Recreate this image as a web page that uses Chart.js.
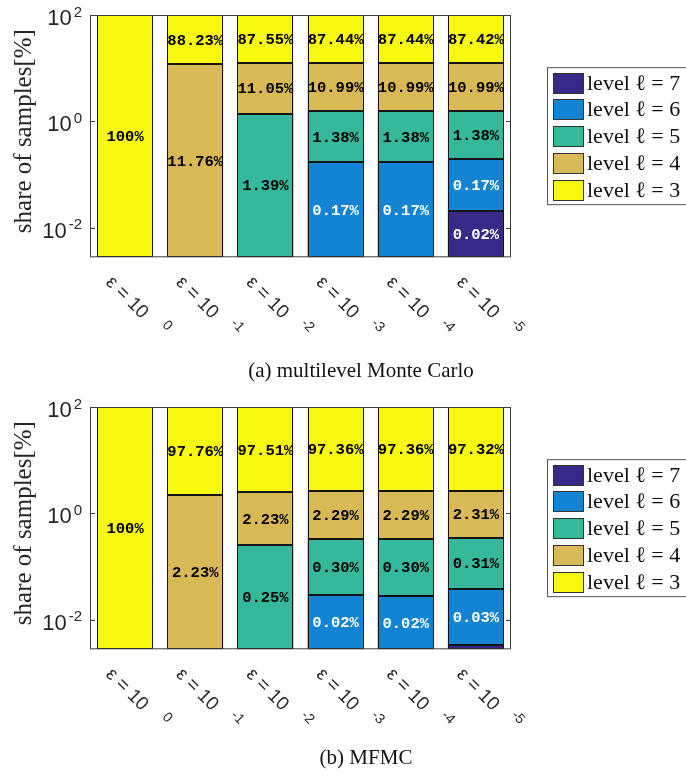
<!DOCTYPE html>
<html>
<head>
<meta charset="utf-8">
<script src="https://cdn.jsdelivr.net/npm/chart.js@4/dist/chart.umd.min.js"></script>
<style>
  body { margin: 0; background: #fff; width: 686px; height: 776px; overflow: hidden; position: relative; }
  .panel { position: absolute; left: 0; width: 686px; height: 392px; }
</style>
</head>
<body>
<div class="panel" style="top:0"><canvas id="mlmcChart" width="686" height="392"></canvas></div>
<div class="panel" style="top:392px"><canvas id="mfmcChart" width="686" height="392"></canvas></div>
<script>
// tolerance exponents on the x axis: eps = 10^k
const epsExponents = ["0", "-1", "-2", "-3", "-4", "-5"];
// stack order: bottom (level 7) first
const levelNames = ["level \u2113 = 7", "level \u2113 = 6", "level \u2113 = 5", "level \u2113 = 4", "level \u2113 = 3"];
const levelColors = ["#352a87", "#1384d4", "#36b89d", "#d8b955", "#f7f70f"];
const labelColors = ["#ffffff", "#ffffff", "#000000", "#000000", "#000000"];
const yTicks = [100, 1, 0.01];
const yMin = 0.00278;
const yMax = 100;

// share of samples per level [%], multilevel Monte Carlo
const mlmcLevel7 = [null, null, null, null, null, 0.021];
const mlmcLevel6 = [null, null, null, 0.17, 0.17, 0.172];
const mlmcLevel5 = [null, null, 1.39, 1.38, 1.38, 1.38];
const mlmcLevel4 = [null, 11.76, 11.05, 10.99, 10.99, 10.99];
const mlmcLevel3 = [100, 88.23, 87.55, 87.44, 87.44, 87.42];

// share of samples per level [%], MFMC
const mfmcLevel7 = [null, null, null, null, null, 0.0034];
const mfmcLevel6 = [null, null, null, 0.029, 0.028, 0.034];
const mfmcLevel5 = [null, null, 0.25, 0.30, 0.30, 0.31];
const mfmcLevel4 = [null, 2.23, 2.23, 2.29, 2.29, 2.31];
const mfmcLevel3 = [100, 97.76, 97.51, 97.36, 97.36, 97.32];

function shareLabel(v) {
    if (v === 100) return "100%";
    let t = Math.floor(v * 100 + 1e-6) / 100;
    return t > 0 ? t.toFixed(2) + "%" : "";
}

let overlay = {
    id: "overlay",
    afterDatasetsDraw(chart) {
        let ctx = chart.ctx;
        let area = chart.chartArea;
        let xs = chart.scales.x, ys = chart.scales.y;
        ctx.save();

        // crisp black outlines of the bar segments
        ctx.strokeStyle = "#141414";
        ctx.lineWidth = 1;
        chart.data.datasets.forEach(function (ds, di) {
            chart.getDatasetMeta(di).data.forEach(function (bar, i) {
                if (ds.data[i] == null) return;
                let l = Math.round(bar.x - bar.width / 2) + 0.5;
                let r = Math.round(bar.x + bar.width / 2) - 0.5;
                let t = Math.max(Math.round(bar.y), Math.round(area.top)) + 0.5;
                let b = Math.round(bar.base) - 0.5;
                ctx.strokeRect(l, t, r - l, b - t);
            });
        });

        // percentages inside the bars
        ctx.font = "bold 15.5px 'Liberation Mono', 'Courier New', monospace";
        ctx.textAlign = "center";
        ctx.textBaseline = "middle";
        chart.data.datasets.forEach(function (ds, di) {
            chart.getDatasetMeta(di).data.forEach(function (bar, i) {
                let v = ds.data[i];
                if (v == null) return;
                let txt = shareLabel(v);
                if (!txt) return;
                ctx.fillStyle = labelColors[di];
                ctx.fillText(txt, bar.x, (bar.y + bar.base) / 2 + 1);
            });
        });

        // axes box with inward ticks
        ctx.strokeStyle = "#3c3c3c";
        ctx.lineWidth = 1;
        ctx.strokeRect(area.left + 0.5, area.top + 0.5, area.width - 1, area.bottom - area.top - 1);
        ctx.beginPath();
        yTicks.forEach(function (t) {
            let py = Math.round(ys.getPixelForValue(t)) + 0.5;
            ctx.moveTo(area.left, py); ctx.lineTo(area.left + 5, py);
            ctx.moveTo(area.right, py); ctx.lineTo(area.right - 5, py);
        });
        ctx.stroke();

        // y tick labels 10^k
        ctx.fillStyle = "#262626";
        ctx.textBaseline = "alphabetic";
        ctx.textAlign = "right";
        yTicks.forEach(function (t) {
            let py = ys.getPixelForValue(t);
            let ex = String(Math.round(Math.log10(t)));
            ctx.font = "15px 'Liberation Sans', Arial, sans-serif";
            let ew = ctx.measureText(ex).width;
            ctx.fillText(ex, area.left - 8, py + 1.5);
            ctx.font = "22px 'Liberation Sans', Arial, sans-serif";
            ctx.fillText("10", area.left - 10 - ew, py + 10);
        });

        // rotated x tick labels
        epsExponents.forEach(function (e, i) {
            let px = xs.getPixelForValue(i);
            ctx.save();
            ctx.translate(px - 20, area.bottom + 26);
            ctx.rotate(Math.PI / 4);
            ctx.textAlign = "left";
            ctx.textBaseline = "alphabetic";
            ctx.font = "19px 'Liberation Sans', Arial, sans-serif";
            ctx.fillText("\u03b5 = 10", 0, 0);
            ctx.textAlign = "center";
            ctx.textBaseline = "middle";
            ctx.font = "14px 'Liberation Sans', Arial, sans-serif";
            ctx.fillText(e, 74, -14);
            ctx.restore();
        });

        // y axis title
        ctx.save();
        ctx.translate(31, (area.top + area.bottom) / 2 - 5);
        ctx.rotate(-Math.PI / 2);
        ctx.textAlign = "center";
        ctx.textBaseline = "alphabetic";
        ctx.fillStyle = "#262626";
        ctx.font = "25px 'Liberation Serif', 'Times New Roman', serif";
        ctx.fillText("share of samples[%]", 0, 0);
        ctx.restore();

        // legend box
        let lx = area.right + 36;
        let ly = (area.top + area.bottom) / 2 - 69;
        ctx.fillStyle = "#fff";
        ctx.fillRect(lx, ly, 170, 138);
        ctx.strokeStyle = "#555";
        ctx.strokeRect(lx + 0.5, ly + 0.5, 170, 137);
        ctx.font = "22px 'Liberation Serif', 'Times New Roman', serif";
        ctx.textAlign = "left";
        ctx.textBaseline = "middle";
        chart.data.datasets.forEach(function (ds, k) {
            let ry = Math.round(ly + 5.6 + k * 26.7);
            ctx.fillStyle = ds.backgroundColor;
            ctx.fillRect(lx + 6.5, ry + 0.5, 30, 20);
            ctx.strokeStyle = "#333";
            ctx.strokeRect(lx + 6.5, ry + 0.5, 30, 20);
            ctx.fillStyle = "#111";
            ctx.fillText(ds.label, lx + 40, ry + 11);
        });

        // caption
        let cap = chart.options.plugins.overlay;
        ctx.fillStyle = "#111";
        ctx.textAlign = "center";
        ctx.textBaseline = "alphabetic";
        ctx.font = "21px 'Liberation Serif', 'Times New Roman', serif";
        ctx.fillText(cap.caption, cap.captionX, cap.captionY);

        ctx.restore();
    }
};

function makeChart(canvasId, series, caption, captionX, captionY) {
    let ctx = document.getElementById(canvasId).getContext("2d");
    return new Chart(ctx, {
        type: "bar",
        data: {
            labels: epsExponents.map(function (e) { return "\u03b5 = 10^" + e; }),
            datasets: series.map(function (values, k) {
                return {
                    label: levelNames[k],
                    data: values,
                    backgroundColor: levelColors[k],
                    borderWidth: 0,
                    barPercentage: 0.8,
                    categoryPercentage: 1
                };
            })
        },
        options: {
            responsive: false,
            animation: false,
            layout: { padding: { left: 90, right: 175, top: 15, bottom: 134.7 } },
            plugins: {
                legend: { display: false },
                tooltip: { enabled: false },
                overlay: { caption: caption, captionX: captionX, captionY: captionY }
            },
            scales: {
                x: {
                    stacked: true,
                    grid: { display: false, drawTicks: false },
                    border: { display: false },
                    ticks: { display: false }
                },
                y: {
                    type: "logarithmic",
                    stacked: true,
                    min: yMin,
                    max: yMax,
                    grid: { display: false, drawTicks: false },
                    border: { display: false },
                    ticks: { display: false }
                }
            }
        },
        plugins: [overlay]
    });
}

makeChart("mlmcChart", [mlmcLevel7, mlmcLevel6, mlmcLevel5, mlmcLevel4, mlmcLevel3],
    "(a) multilevel Monte Carlo", 361, 377);
makeChart("mfmcChart", [mfmcLevel7, mfmcLevel6, mfmcLevel5, mfmcLevel4, mfmcLevel3],
    "(b) MFMC", 366, 372);
</script>
</body>
</html>
